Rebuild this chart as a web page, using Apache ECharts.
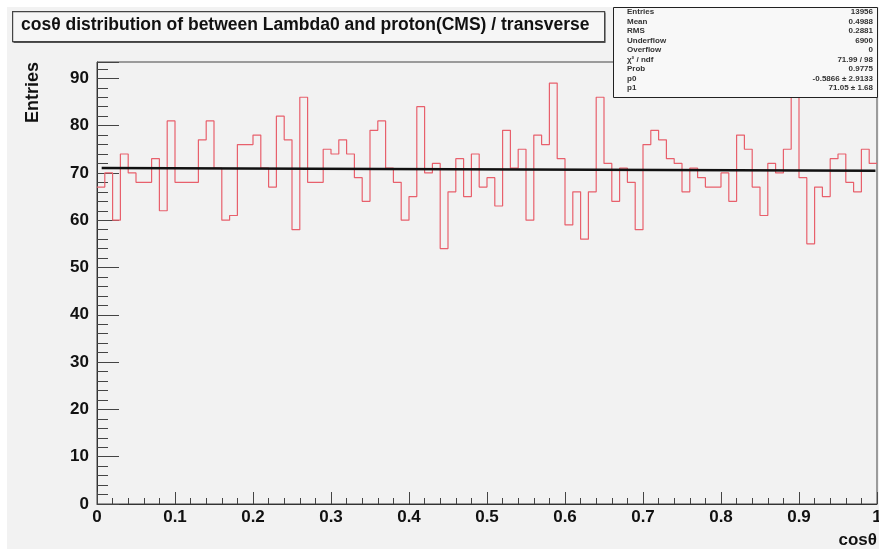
<!DOCTYPE html>
<html><head><meta charset="utf-8">
<script src="https://cdn.jsdelivr.net/npm/echarts@6/dist/echarts.min.js"></script>
<style>html,body{margin:0;padding:0;background:#ffffff;}#c{width:879px;height:549px;}</style>
</head><body><div id="c"></div><script>
// ---- data ----
const nBins = 100, xMin = 0, xMax = 1;
const counts = [
  67, 70, 60, 74, 70, 68, 68, 73, 62, 81, 68, 68, 68, 77, 81, 71, 60, 61, 76, 76, 78, 71, 67, 82, 77,
  58, 86, 68, 68, 75, 74, 77, 74, 69, 64, 79, 81, 71, 68, 60, 65, 84, 70, 72, 54, 66, 73, 65, 74, 67,
  69, 63, 79, 71, 75, 60, 78, 76, 89, 73, 59, 66, 56, 66, 86, 72, 64, 71, 68, 58, 76, 79, 77, 73, 72,
  66, 71, 69, 67, 67, 70, 64, 78, 75, 67, 61, 72, 70, 75, 86, 69, 55, 67, 65, 73, 74, 68, 66, 75, 72
];
const fitP0 = -0.5866, fitP1 = 71.05;       // y = p1 + p0 * x
const fitRange = [0.006, 0.998];
const yMax = 93.45;
const titleText = 'cosθ distribution of between Lambda0 and proton(CMS) / transverse';
const xTitle = 'cosθ';
const yTitle = 'Entries';
const statsLabels = ['Entries', 'Mean', 'RMS', 'Underflow', 'Overflow', 'χ² / ndf', 'Prob', 'p0', 'p1'];
const statsValues = ['13956', '0.4988', '0.2881', '6900', '0', '71.99 / 98', '0.9775', '-0.5866 ± 2.9133', '71.05 ± 1.68'];

// ---- build series data ----
const binW = (xMax - xMin) / nBins;
const histData = counts.map((v, i) => [xMin + i * binW, v]);
histData.push([xMax, counts[counts.length - 1]]);
const fitData = fitRange.map(x => [x, fitP1 + fitP0 * x]);

const FONT = '"Liberation Sans", Arial, sans-serif';
const chart = echarts.init(document.getElementById('c'), null, {renderer: 'canvas'});

const statsGraphics = [];
statsLabels.forEach((l, i) => {
  statsGraphics.push({type: 'text', left: 627, top: 8 + i * 9.5, z: 101,
    style: {text: l, font: 'bold 8px ' + FONT, fill: '#333'}});
  statsGraphics.push({type: 'text', right: 6, top: 8 + i * 9.5, z: 101,
    style: {text: statsValues[i], font: 'bold 8px ' + FONT, fill: '#333', textAlign: 'right'}});
});

chart.setOption({
  animation: false,
  backgroundColor: '#ffffff',
  grid: {left: 97, right: 2, top: 62, bottom: 45, show: true, backgroundColor: '#f2f2f2',
         borderColor: '#444', borderWidth: 1, outerBoundsMode: 'none', containLabel: false},
  xAxis: {
    type: 'value', min: xMin, max: xMax, interval: 0.1,
    axisLine: {show: true, onZero: false, lineStyle: {color: '#333', width: 1}},
    axisTick: {show: true, inside: true, length: 12, lineStyle: {color: '#444'}},
    minorTick: {show: true, splitNumber: 5, length: 6, lineStyle: {color: '#444'}},
    splitLine: {show: false},
    axisLabel: {color: '#111', fontFamily: FONT, fontWeight: 'bold', fontSize: 17, margin: 5,
      formatter: v => (Math.round(v * 10) / 10).toString()}
  },
  yAxis: {
    type: 'value', min: 0, max: yMax, interval: 10,
    axisLine: {show: true, onZero: false, lineStyle: {color: '#333', width: 1}},
    axisTick: {show: true, inside: true, length: 22, lineStyle: {color: '#444'}},
    minorTick: {show: true, splitNumber: 5, length: 11, lineStyle: {color: '#444'}},
    splitLine: {show: false},
    axisLabel: {color: '#111', fontFamily: FONT, fontWeight: 'bold', fontSize: 17, margin: 8,
      showMaxLabel: false,
      formatter: v => (Math.abs(v % 10) < 1e-6 ? String(v) : '')}
  },
  series: [
    {type: 'line', data: histData, step: 'end', symbol: 'none', z: 2,
     lineStyle: {color: '#e8606c', width: 1.2}},
    {type: 'line', data: fitData, symbol: 'none', z: 3,
     lineStyle: {color: '#111', width: 2.5}}
  ],
  graphic: [
    {type: 'rect', left: 7, top: 7, z: -10, silent: true,
     shape: {width: 872, height: 542}, style: {fill: '#f2f2f2'}},
    // title box shadow + box
    {type: 'rect', left: 13.5, top: 12.5, z: 99, shape: {width: 592, height: 30.5}, style: {fill: '#555'}},
    {type: 'rect', left: 12, top: 11, z: 100, shape: {width: 592, height: 30},
     style: {fill: '#f6f6f6', stroke: '#444', lineWidth: 1.2}},
    {type: 'text', left: 21, top: 16, z: 101,
     style: {text: titleText, font: 'bold 17.5px ' + FONT, fill: '#111'}},
    // stats box
    {type: 'rect', left: 613, top: 7, z: 100, shape: {width: 264, height: 90},
     style: {fill: '#f8f8f8', stroke: '#222', lineWidth: 1}},
    ...statsGraphics,
    // axis titles
    {type: 'text', x: 33, y: 62, rotation: Math.PI / 2, z: 101,
     style: {text: yTitle, font: 'bold 18px ' + FONT, fill: '#111', textAlign: 'right', textVerticalAlign: 'middle'}},
    {type: 'text', x: 877, y: 540, z: 101,
     style: {text: xTitle, font: 'bold 17px ' + FONT, fill: '#111', textAlign: 'right', textVerticalAlign: 'middle'}}
  ]
});
</script></body></html>
